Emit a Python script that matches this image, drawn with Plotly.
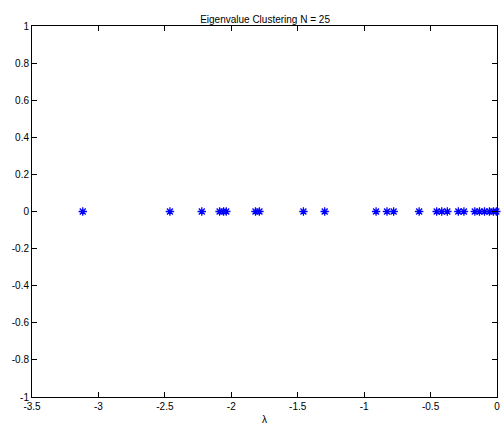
import plotly.graph_objects as go

eigenvalues = [-3.118, -2.462, -2.222, -2.088, -2.058, -2.038, -1.818, -1.788,
               -1.457, -1.297, -0.910, -0.828, -0.778, -0.586, -0.454, -0.416,
               -0.374, -0.291, -0.249, -0.167, -0.132, -0.094, -0.057, -0.027,
               -0.005]
imag_parts = [0.0] * len(eigenvalues)
x_ticks = [-3.5, -3, -2.5, -2, -1.5, -1, -0.5, 0]
x_tick_labels = ["-3.5", "-3", "-2.5", "-2", "-1.5", "-1", "-0.5", "0"]
y_ticks = [-1, -0.8, -0.6, -0.4, -0.2, 0, 0.2, 0.4, 0.6, 0.8, 1]
y_tick_labels = ["-1", "-0.8", "-0.6", "-0.4", "-0.2", "0", "0.2", "0.4", "0.6", "0.8", "1"]

fig = go.Figure(go.Scatter(
    x=eigenvalues, y=imag_parts, mode="markers",
    marker=dict(symbol="asterisk-open", size=7, color="#0000ff",
                line=dict(color="#0000ff", width=1.3)),
    cliponaxis=False,
))

axis_common = dict(showgrid=False, zeroline=False, showline=True, linecolor="black",
                   linewidth=1, mirror="ticks", ticks="inside", ticklen=5,
                   tickcolor="black", tickfont=dict(size=10, color="black"),
                   ticklabeloverflow="allow")

fig.update_layout(
    width=502, height=430,
    margin=dict(l=32, r=2, t=26, b=33),
    paper_bgcolor="white", plot_bgcolor="white",
    font=dict(family="Liberation Sans, Arial, sans-serif", size=10, color="black"),
    title=dict(text="Eigenvalue Clustering N = 25", x=0.528, xanchor="center",
               y=0.955, yanchor="middle", font=dict(size=10)),
    showlegend=False,
    xaxis=dict(range=[-3.5, 0], tickvals=x_ticks, ticktext=x_tick_labels,
               title=dict(text="λ", standoff=4, font=dict(size=10)), **axis_common),
    yaxis=dict(range=[-1, 1], tickvals=y_ticks, ticktext=y_tick_labels, **axis_common),
)

fig.write_html("out.html")
